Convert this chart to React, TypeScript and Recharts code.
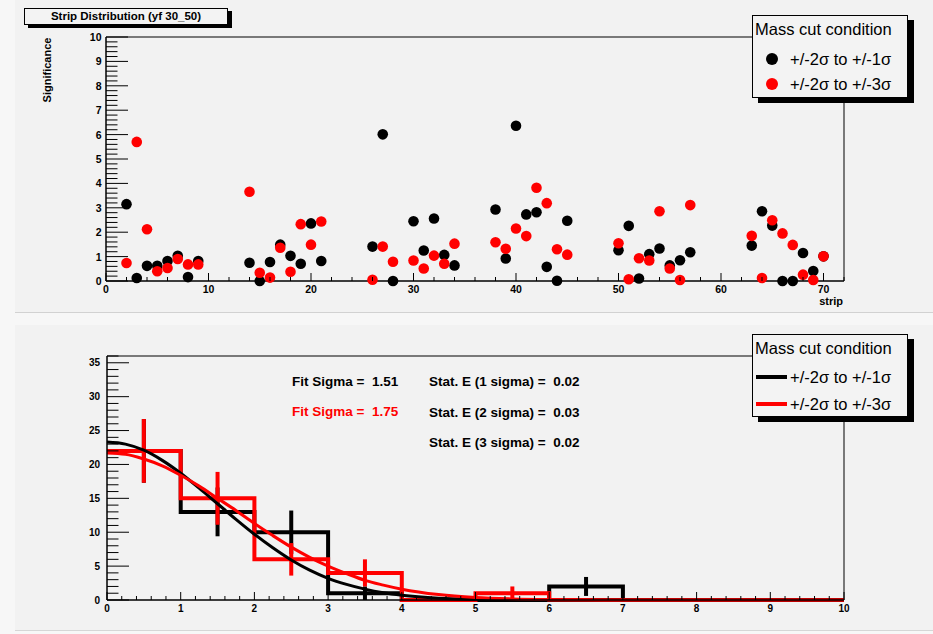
import React from "react";
import {
  ComposedChart,
  ScatterChart,
  Scatter,
  Line,
  XAxis,
  YAxis,
  ErrorBar,
  ReferenceLine,
  Legend,
} from "recharts";

const FONT = '"Liberation Sans", Arial, Helvetica, sans-serif';
const PAD_BG = "#f2f2f2";
const RED = "#ff0000";

const seriesNames = ["+/-2σ to +/-1σ", "+/-2σ to +/-3σ"];

// top pad: significance per strip
const strips = [
  2, 3, 4, 5, 6, 7, 8, 9, 14, 15, 16, 17, 18, 19, 20, 21, 26, 27, 28, 30, 31, 32, 33, 34,
  38, 39, 40, 41, 42, 43, 44, 45, 50, 51, 52, 53, 54, 55, 56, 57, 63, 64, 65, 66, 67, 68, 69, 70,
];
const sigOneSigma = [
  3.15, 0.12, 0.62, 0.62, 0.82, 1.03, 0.16, 0.82,
  0.75, 0.0, 0.78, 1.49, 1.03, 0.71, 2.36, 0.82,
  1.41, 6.01, 0.0, 2.45, 1.25, 2.56, 1.07, 0.64,
  2.93, 0.92, 6.36, 2.73, 2.82, 0.58, 0.01, 2.47,
  1.26, 2.26, 0.1, 1.1, 1.33, 0.64, 0.85, 1.18,
  1.45, 2.86, 2.27, 0.0, 0.0, 1.15, 0.41, 1.01,
];
const sigThreeSigma = [
  0.74, 5.7, 2.12, 0.4, 0.53, 0.9, 0.68, 0.68,
  3.66, 0.34, 0.14, 1.36, 0.38, 2.33, 1.49, 2.44,
  0.05, 1.41, 0.79, 0.84, 0.51, 1.04, 0.71, 1.53,
  1.59, 1.32, 2.15, 1.84, 3.82, 3.19, 1.3, 1.08,
  1.55, 0.07, 0.93, 0.84, 2.86, 0.51, 0.04, 3.11,
  1.85, 0.12, 2.49, 1.95, 1.48, 0.26, 0.04, 1.01,
];
const stripMajor = [0, 10, 20, 30, 40, 50, 60, 70];
const sigMajor = [0, 1, 2, 3, 4, 5, 6, 7, 8, 9, 10];

// bottom pad: width distribution
const binEdges = [0, 1, 2, 3, 4, 5, 6, 7, 8, 9, 10];
const countsOne = [22, 13, 10, 1, 0, 0, 2, 0, 0, 0];
const countsThree = [22, 15, 6, 4, 0, 1, 0, 0, 0, 0];
const errOne = [4.7, 3.6, 3.2, 1.0, 0, 0, 1.4, 0, 0, 0];
const errThree = [4.7, 3.9, 2.4, 2.0, 0, 1.0, 0, 0, 0, 0];
const fitX = [0, 0.25, 0.5, 0.75, 1, 1.25, 1.5, 1.75, 2, 2.25, 2.5, 2.75, 3, 3.25, 3.5, 3.75, 4, 4.5, 5, 5.5, 6, 6.5, 7, 8, 9, 10];
const fitOne = [23.3, 23.0, 22.1, 20.6, 18.7, 16.5, 14.2, 11.9, 9.7, 7.7, 5.9, 4.4, 3.2, 2.3, 1.6, 1.07, 0.7, 0.27, 0.1, 0.03, 0.01, 0, 0, 0, 0, 0];
const fitThree = [21.7, 21.5, 20.8, 19.8, 18.4, 16.8, 15.0, 13.2, 11.3, 9.5, 7.8, 6.3, 5.0, 3.9, 2.9, 2.2, 1.6, 0.8, 0.37, 0.16, 0.06, 0.02, 0.01, 0, 0, 0];
const widthMajorX = [0, 1, 2, 3, 4, 5, 6, 7, 8, 9, 10];
const widthMajorY = [0, 5, 10, 15, 20, 25, 30, 35];
const fitSigmas = [1.51, 1.75];
const statErrors = [0.02, 0.03, 0.02];

const steps = (lo: number, hi: number, d: number) => {
  const out: number[] = [];
  for (let v = lo; v <= hi + 1e-9; v += d) out.push(Math.round(v * 100) / 100);
  return out;
};

const stripData = (vals: number[]) => strips.map((s, i) => ({ strip: s, value: vals[i] }));
const histData = (counts: number[]) =>
  binEdges.map((x, i) => ({ x, y: counts[Math.min(i, counts.length - 1)] }));
const errData = (counts: number[], errs: number[]) =>
  counts
    .map((c, i) => ({ x: binEdges[i] + 0.5, y: c, err: errs[i] }))
    .filter((d) => d.y > 0);
const fitData = (vals: number[]) => fitX.map((x, i) => ({ x, y: vals[i] }));

const isIn = (list: number[], v: number) => list.some((m) => Math.abs(m - v) < 1e-6);

function yTick(majors: number[], margin: number, fontSize: number) {
  return (props: any) => {
    const { x, y, payload } = props;
    const v = payload.value;
    const major = isIn(majors, v);
    const ax = x + margin;
    return (
      <g>
        <line x1={ax} x2={ax + (major ? 22 : 11.5)} y1={y} y2={y} stroke="#000" strokeWidth={1} />
        {major && (
          <text x={x} y={y} textAnchor="end" dominantBaseline="central" fontFamily={FONT} fontWeight="bold" fontSize={fontSize} fill="#000">
            {v}
          </text>
        )}
      </g>
    );
  };
}

function xTick(majors: number[], margin: number, fontSize: number) {
  return (props: any) => {
    const { x, y, payload } = props;
    const v = payload.value;
    const major = isIn(majors, v);
    const ay = y - margin;
    return (
      <g>
        <line x1={x} x2={x} y1={ay} y2={ay - (major ? 8 : 4)} stroke="#000" strokeWidth={1} />
        {major && (
          <text x={x} y={y} textAnchor="middle" dominantBaseline="central" fontFamily={FONT} fontWeight="bold" fontSize={fontSize} fill="#000">
            {v}
          </text>
        )}
      </g>
    );
  };
}

function MassCutLegend({ payload, marker }: any) {
  const rows = (payload ?? []).filter((p: any) => p.type !== "none" && seriesNames.includes(p.value));
  const rowTops = marker === "dot" ? [33, 58] : [32, 59];
  return (
    <div
      style={{
        position: "relative",
        width: 156,
        height: 83,
        boxSizing: "border-box",
        border: "1px solid #000",
        background: "#f3f3f3",
        boxShadow: "6px 5px 0 #000",
        fontFamily: FONT,
        fontSize: 16.5,
        color: "#000",
      }}
    >
      <div style={{ position: "absolute", left: 2, top: 3, lineHeight: "20px", whiteSpace: "pre" }}>Mass cut condition</div>
      {rows.map((r: any, i: number) => (
        <div key={r.value} style={{ position: "absolute", left: 0, top: rowTops[i], height: 20, width: 154 }}>
          <svg width={36} height={20} style={{ position: "absolute", left: 0, top: 0 }}>
            {marker === "dot" ? (
              <circle cx={19} cy={10} r={6} fill={r.color} />
            ) : (
              <line x1={3} x2={34} y1={10} y2={10} stroke={r.color} strokeWidth={4} />
            )}
          </svg>
          <div style={{ position: "absolute", left: 37, top: 0, lineHeight: "20px", whiteSpace: "pre" }}>{r.value}</div>
        </div>
      ))}
    </div>
  );
}

function StripPad() {
  return (
    <ScatterChart width={933} height={312} margin={{ top: 37, right: 89, bottom: 0, left: 66 }}>
      <XAxis
        type="number"
        dataKey="strip"
        domain={[0, 72]}
        ticks={steps(0, 72, 2)}
        interval={0}
        height={31}
        tickSize={0}
        tickMargin={7.5}
        tickLine={false}
        axisLine={{ stroke: "#000", strokeWidth: 1.5 }}
        tick={xTick(stripMajor, 7.5, 10.5)}
        label={{
          content: () => (
            <text x={843} y={301} textAnchor="end" dominantBaseline="central" fontFamily={FONT} fontWeight="bold" fontSize={11}>
              strip
            </text>
          ),
        }}
      />
      <YAxis
        type="number"
        dataKey="value"
        domain={[0, 10]}
        ticks={steps(0, 10, 0.2)}
        interval={0}
        width={40}
        tickSize={0}
        tickMargin={4.5}
        tickLine={false}
        axisLine={{ stroke: "#000", strokeWidth: 1.5 }}
        tick={yTick(sigMajor, 4.5, 10.5)}
        label={{
          content: () => (
            <text x={47} y={70} transform="rotate(-90 47 70)" textAnchor="middle" dominantBaseline="central" fontFamily={FONT} fontWeight="bold" fontSize={11}>
              Significance
            </text>
          ),
        }}
      />
      <ReferenceLine y={10} stroke="#000" strokeWidth={1} />
      <ReferenceLine x={72} stroke="#000" strokeWidth={1} />
      <Scatter
        name={seriesNames[0]}
        data={stripData(sigOneSigma)}
        fill="#000"
        isAnimationActive={false}
        shape={(p: any) => <circle cx={p.cx} cy={p.cy} r={5.3} fill="#000" />}
      />
      <Scatter
        name={seriesNames[1]}
        data={stripData(sigThreeSigma)}
        fill={RED}
        isAnimationActive={false}
        shape={(p: any) => <circle cx={p.cx} cy={p.cy} r={5.3} fill={RED} />}
      />
      <Legend
        layout="vertical"
        align="center"
        verticalAlign="middle"
        wrapperStyle={{ left: 752, top: 15, width: 156, height: 83 }}
        content={(props: any) => <MassCutLegend {...props} marker="dot" />}
      />
    </ScatterChart>
  );
}

function WidthPad() {
  return (
    <ComposedChart width={933} height={308} margin={{ top: 34, right: 89, bottom: 0, left: 67 }}>
      <XAxis
        type="number"
        dataKey="x"
        domain={[0, 10]}
        ticks={steps(0, 10, 0.2)}
        interval={0}
        height={30}
        tickSize={0}
        tickMargin={8}
        tickLine={false}
        axisLine={{ stroke: "#000", strokeWidth: 1.5 }}
        tick={xTick(widthMajorX, 8, 10)}
      />
      <YAxis
        type="number"
        domain={[0, 36]}
        ticks={steps(0, 36, 1)}
        interval={0}
        width={40}
        tickSize={0}
        tickMargin={7}
        tickLine={false}
        axisLine={{ stroke: "#000", strokeWidth: 1.5 }}
        tick={yTick(widthMajorY, 7, 10)}
      />
      <ReferenceLine y={36} stroke="#000" strokeWidth={1} />
      <ReferenceLine x={10} stroke="#000" strokeWidth={1} />
      <Line
        name={seriesNames[0]}
        data={histData(countsOne)}
        dataKey="y"
        type="stepAfter"
        stroke="#000"
        strokeWidth={4}
        strokeLinejoin="miter"
        dot={false}
        activeDot={false}
        isAnimationActive={false}
      />
      <Scatter data={errData(countsOne, errOne)} dataKey="y" legendType="none" isAnimationActive={false} shape={() => <g />}>
        <ErrorBar dataKey="err" direction="y" width={0} stroke="#000" strokeWidth={4} isAnimationActive={false} />
      </Scatter>
      <Line
        name={seriesNames[1]}
        data={histData(countsThree)}
        dataKey="y"
        type="stepAfter"
        stroke={RED}
        strokeWidth={4}
        strokeLinejoin="miter"
        dot={false}
        activeDot={false}
        isAnimationActive={false}
      />
      <Scatter data={errData(countsThree, errThree)} dataKey="y" legendType="none" isAnimationActive={false} shape={() => <g />}>
        <ErrorBar dataKey="err" direction="y" width={0} stroke={RED} strokeWidth={4} isAnimationActive={false} />
      </Scatter>
      <Line
        data={fitData(fitOne)}
        dataKey="y"
        type="monotone"
        stroke="#000"
        strokeWidth={3}
        dot={false}
        activeDot={false}
        legendType="none"
        isAnimationActive={false}
      />
      <Line
        data={fitData(fitThree)}
        dataKey="y"
        type="monotone"
        stroke={RED}
        strokeWidth={3}
        dot={false}
        activeDot={false}
        legendType="none"
        isAnimationActive={false}
      />
      <Legend
        layout="vertical"
        align="center"
        verticalAlign="middle"
        wrapperStyle={{ left: 752, top: 12, width: 156, height: 83 }}
        content={(props: any) => <MassCutLegend {...props} marker="line" />}
      />
    </ComposedChart>
  );
}

const statStyle: React.CSSProperties = {
  position: "absolute",
  fontFamily: FONT,
  fontWeight: "bold",
  fontSize: 13.5,
  lineHeight: "16px",
  whiteSpace: "pre",
};

export default function App() {
  return (
    <div style={{ position: "absolute", left: 0, top: 0, width: 933, height: 634, background: "#f7f7f7", overflow: "hidden" }}>
      <div style={{ position: "absolute", left: 15, top: 0, width: 918, height: 313, background: PAD_BG, borderBottom: "1px solid #d2d2d2", boxSizing: "border-box" }} />
      <div style={{ position: "absolute", left: 15, top: 325, width: 918, height: 306, background: PAD_BG, borderBottom: "1px solid #d6d6d6", boxSizing: "border-box" }} />
      <div style={{ position: "absolute", left: 0, top: 0 }}>
        <StripPad />
      </div>
      <div style={{ position: "absolute", left: 0, top: 322 }}>
        <WidthPad />
      </div>
      <div
        style={{
          position: "absolute",
          left: 24,
          top: 8,
          width: 204,
          height: 17,
          boxSizing: "border-box",
          border: "1px solid #000",
          background: "#f3f3f3",
          boxShadow: "4px 3px 0 #000",
          fontFamily: FONT,
          fontWeight: "bold",
          fontSize: 11.5,
          lineHeight: "15px",
          textAlign: "center",
        }}
      >
        Strip Distribution (yf 30_50)
      </div>
      <div style={{ ...statStyle, left: 292, top: 374, color: "#000" }}>{`Fit Sigma =  ${fitSigmas[0].toFixed(2)}`}</div>
      <div style={{ ...statStyle, left: 292, top: 404, color: RED }}>{`Fit Sigma =  ${fitSigmas[1].toFixed(2)}`}</div>
      {statErrors.map((e, i) => (
        <div key={i} style={{ ...statStyle, left: 429, top: 374 + i * 30.5, color: "#000" }}>
          {`Stat. E (${i + 1} sigma) =  ${e.toFixed(2)}`}
        </div>
      ))}
    </div>
  );
}
